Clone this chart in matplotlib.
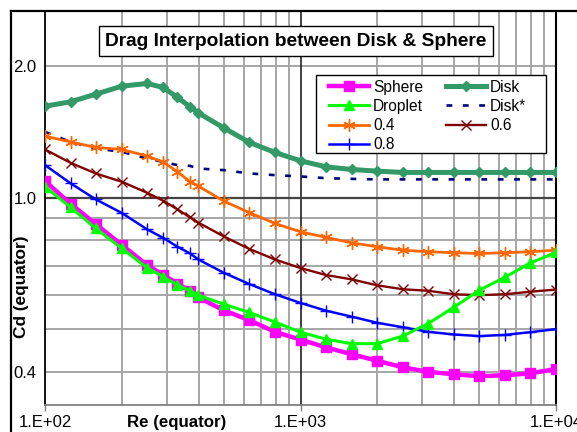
import numpy as np
import matplotlib.pyplot as plt
from matplotlib.lines import Line2D
from matplotlib.patches import Rectangle
from matplotlib.ticker import FixedLocator, NullFormatter

plt.rcParams['font.family'] = ['Liberation Sans', 'DejaVu Sans']

# --- dati ---
re_eq = [100, 126, 158, 200, 251, 290, 330, 370, 398, 501, 631, 794,
         1000, 1259, 1585, 1995, 2512, 3162, 3981, 5012, 6310, 7943, 10000]

cd_sphere = [1.092, 0.969, 0.871, 0.780, 0.702, 0.667, 0.636, 0.613, 0.592, 0.553, 0.525, 0.494,
             0.474, 0.455, 0.439, 0.424, 0.410, 0.400, 0.395, 0.391, 0.393, 0.397, 0.406]
cd_droplet = [1.060, 0.951, 0.851, 0.766, 0.692, 0.660, 0.632, 0.613, 0.599, 0.571, 0.547, 0.520,
              0.493, 0.475, 0.464, 0.464, 0.483, 0.516, 0.562, 0.615, 0.658, 0.710, 0.750]
cd_04 = [1.384, 1.342, 1.304, 1.290, 1.246, 1.208, 1.147, 1.088, 1.064, 0.983, 0.925, 0.874,
         0.836, 0.812, 0.789, 0.773, 0.759, 0.753, 0.749, 0.746, 0.749, 0.753, 0.759]
cd_08 = [1.188, 1.079, 0.992, 0.923, 0.847, 0.810, 0.773, 0.746, 0.723, 0.674, 0.635, 0.602,
         0.575, 0.552, 0.535, 0.518, 0.506, 0.494, 0.487, 0.483, 0.486, 0.493, 0.501]
cd_disk = [1.620, 1.658, 1.726, 1.800, 1.826, 1.788, 1.696, 1.614, 1.564, 1.445, 1.339, 1.270,
           1.215, 1.177, 1.161, 1.151, 1.143, 1.143, 1.143, 1.143, 1.143, 1.143, 1.143]
cd_disk_star = [1.415, 1.342, 1.297, 1.274, 1.230, 1.208, 1.188, 1.183, 1.167, 1.157, 1.137, 1.127,
                1.119, 1.109, 1.105, 1.102, 1.102, 1.102, 1.102, 1.102, 1.102, 1.102, 1.102]
cd_06 = [1.290, 1.202, 1.137, 1.088, 1.027, 0.985, 0.941, 0.902, 0.878, 0.816, 0.764, 0.723,
         0.691, 0.666, 0.651, 0.631, 0.618, 0.613, 0.602, 0.599, 0.602, 0.610, 0.617]

x_ticks = [100, 1000, 10000]
x_tick_labels = ['1.E+02', '1.E+03', '1.E+04']
y_ticks = [0.4, 1.0, 2.0]
y_tick_labels = ['0.4', '1.0', '2.0']

fig = plt.figure(figsize=(5.77, 4.32), dpi=100)
ax = fig.add_axes([45 / 577, 1 - 405 / 432, 511 / 577, 393 / 432])
ax.set_xscale('log')
ax.set_yscale('log')
ax.set_xlim(100, 10000)
ax.set_ylim(0.336, 2.66)

# griglia stile Excel: maggiori scure, minori grigie
for v in [200, 300, 400, 500, 600, 700, 800, 900, 2000, 3000, 4000, 5000, 6000, 7000, 8000, 9000]:
    ax.axvline(v, color='#a6a6a6', lw=1.4, zorder=0)
for v in [0.4, 0.5, 0.6, 0.7, 0.8, 0.9, 2.0]:
    ax.axhline(v, color='#a6a6a6', lw=1.4, zorder=0)
ax.axvline(1000, color='#222222', lw=1.2, zorder=0)
ax.axhline(1.0, color='#444444', lw=1.6, zorder=0)

ax.plot(re_eq, cd_sphere, color='#ff00ff', lw=3.2, marker='s', ms=6.5, label='Sphere', zorder=3)
ax.plot(re_eq, cd_droplet, color='#00ff00', lw=2.2, marker='^', ms=6.5, label='Droplet', zorder=4)
ax.plot(re_eq, cd_04, color='#ff6600', lw=2.0, marker=(6, 2, 0), ms=9, mew=1.0, label='0.4', zorder=3)
ax.plot(re_eq, cd_08, color='#0000ff', lw=1.8, marker='+', ms=8, mew=1.0, label='0.8', zorder=3)
ax.plot(re_eq, cd_disk, color='#339966', lw=3.6, marker='D', ms=5.5, label='Disk', zorder=3)
ax.plot(re_eq, cd_disk_star, color='#000080', lw=1.9, ls=(0, (2.2, 4.0)), label='Disk*', zorder=2)
ax.plot(re_eq, cd_06, color='#800000', lw=1.7, marker='x', ms=6.5, mew=1.0, label='0.6', zorder=3)

ax.xaxis.set_major_locator(FixedLocator(x_ticks))
ax.set_xticklabels(x_tick_labels)
ax.xaxis.set_minor_locator(FixedLocator([]))
ax.xaxis.set_minor_formatter(NullFormatter())
ax.yaxis.set_major_locator(FixedLocator(y_ticks))
ax.set_yticklabels(y_tick_labels)
ax.yaxis.set_minor_locator(FixedLocator([]))
ax.yaxis.set_minor_formatter(NullFormatter())
ax.tick_params(axis='x', direction='out', length=4, width=1, color='#808080', labelsize=12, pad=3)
ax.tick_params(axis='y', length=0, labelsize=12, pad=6)

ax.spines['top'].set_visible(False)
ax.spines['left'].set_color('black')
ax.spines['left'].set_linewidth(1.3)
ax.spines['right'].set_color('black')
ax.spines['right'].set_linewidth(1.5)
ax.spines['bottom'].set_color('#808080')
ax.spines['bottom'].set_linewidth(1.3)

# riquadro della legenda disegnato a parte (più largo, come in Excel)
ax.add_patch(Rectangle((316 / 577, 1 - 153 / 432), 230 / 577, 78 / 432,
                       transform=fig.transFigure, fc='white', ec='black', lw=1.0,
                       zorder=8, clip_on=False))
leg = ax.legend(ncol=2, loc='upper left', bbox_to_anchor=(324 / 577, 1 - 75 / 432),
                bbox_transform=fig.transFigure, fontsize=11.2, frameon=False,
                numpoints=1, handlelength=2.6,
                handletextpad=0.25, labelspacing=0.27, columnspacing=1.45,
                borderpad=0.3, borderaxespad=0)
leg.set_zorder(9)

fig.text(296 / 577, 1 - 41 / 432, 'Drag Interpolation between Disk & Sphere',
         ha='center', va='center', fontsize=13.8, fontweight='bold',
         bbox=dict(boxstyle='square,pad=0.33', fc='white', ec='black', lw=1.0))

fig.text(177 / 577, 1 - 422 / 432, 'Re (equator)', ha='center', va='center',
         fontsize=12.2, fontweight='bold')
fig.text(22 / 577, 1 - 287 / 432, 'Cd (equator)', ha='center', va='center',
         rotation=90, fontsize=12.4, fontweight='bold')

# bordo esterno del grafico (tagliato a destra e in basso)
fig.add_artist(Line2D([10.5 / 577, 10.5 / 577], [0, 1 - 11 / 432], color='black', lw=1.6,
                      transform=fig.transFigure))
fig.add_artist(Line2D([10.5 / 577, 1], [1 - 11 / 432, 1 - 11 / 432], color='black', lw=1.6,
                      transform=fig.transFigure))

fig.savefig('out.png', dpi=100)
